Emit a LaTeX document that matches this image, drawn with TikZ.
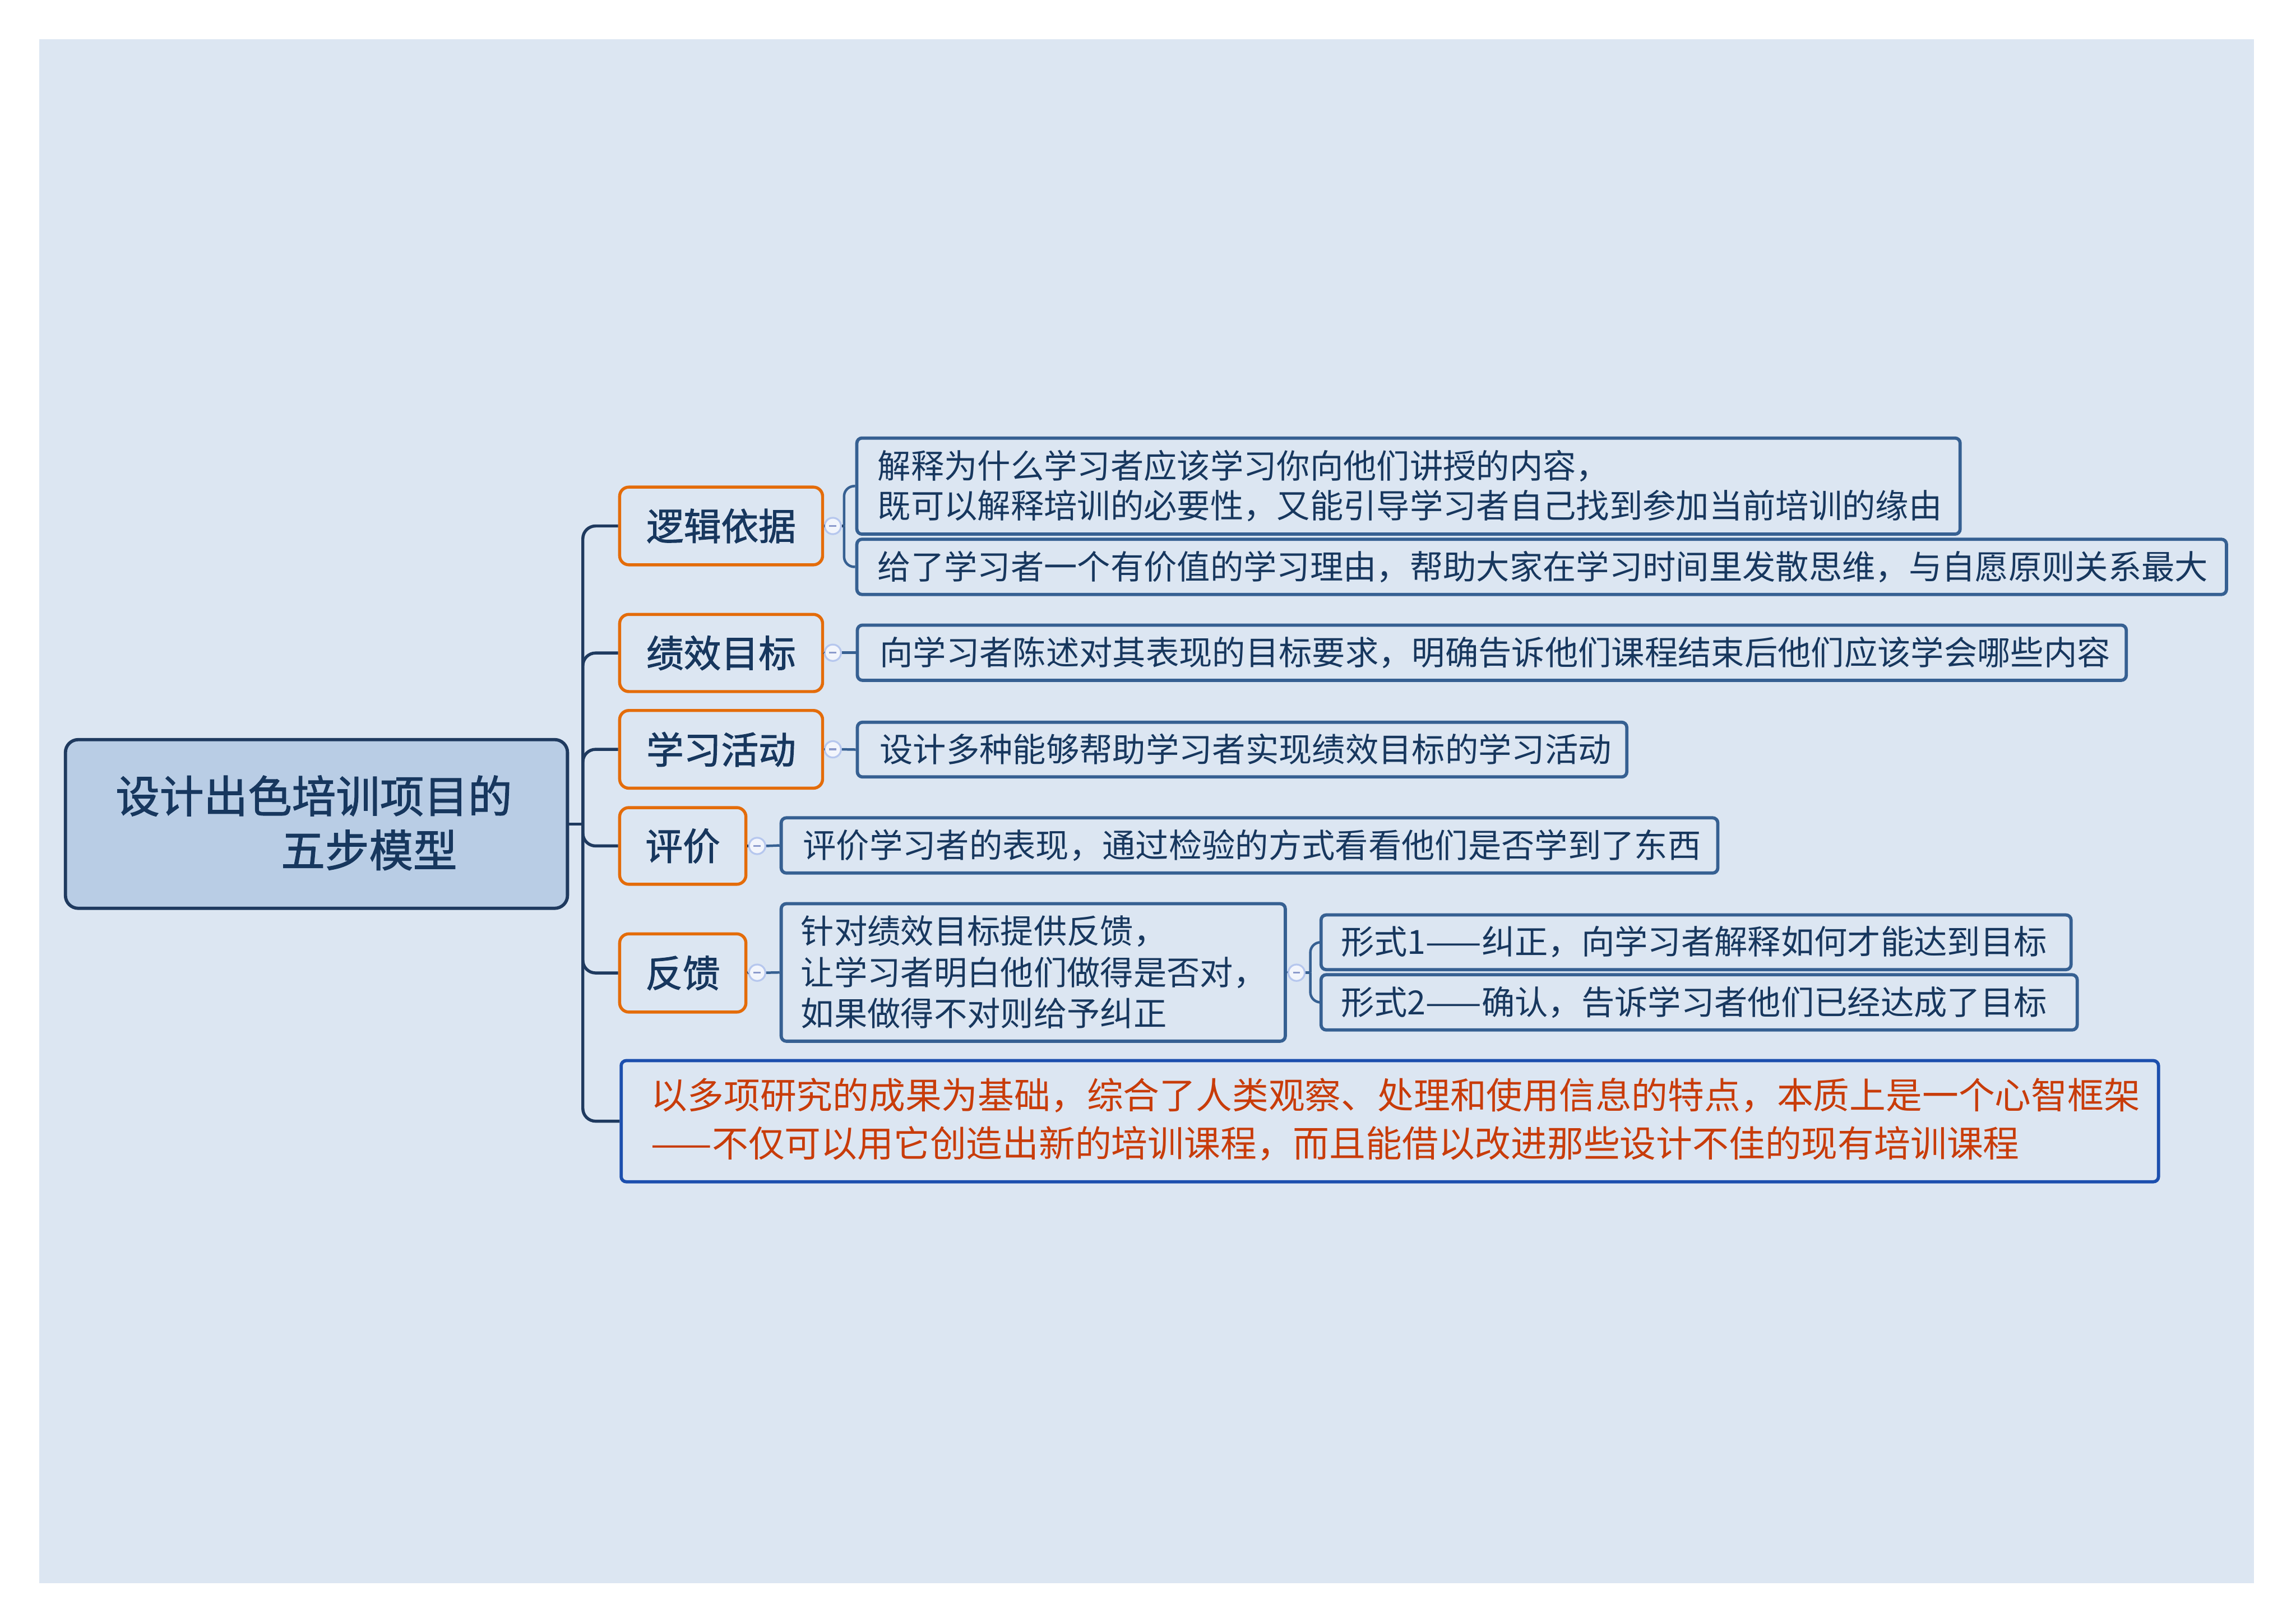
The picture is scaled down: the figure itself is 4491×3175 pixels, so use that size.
\documentclass[tikz,border=0pt]{standalone}
\usepackage{fontspec}
\newfontfamily\cjk{Noto Sans CJK SC}
\newfontfamily\cjkb[FakeBold=1.5]{Noto Sans CJK SC}
\usetikzlibrary{fit}
\definecolor{bg}{HTML}{DCE6F2}
\definecolor{rootfill}{HTML}{B9CDE5}
\definecolor{navy}{HTML}{1F3A5F}
\definecolor{ink}{HTML}{17375E}
\definecolor{orng}{HTML}{E46C0A}
\definecolor{steel}{HTML}{366092}
\definecolor{rblue}{HTML}{1C4FAE}
\definecolor{redtxt}{HTML}{C83C0A}
\definecolor{knobring}{HTML}{B6C7EE}
\definecolor{knobfill}{HTML}{F2F5FC}
\definecolor{knobdash}{HTML}{8C9BCC}
\begin{document}
\begin{tikzpicture}[x=0.01cm,y=-0.01cm,
  rootbox/.style={draw=navy, line width=1.8pt, fill=rootfill, rounded corners=0.25cm, inner sep=0pt},
  obox/.style={draw=orng, line width=1.7pt, fill=bg, rounded corners=0.18cm, inner sep=0pt},
  olabel/.style={text=ink, font=\cjkb\fontsize{20.8pt}{25pt}\selectfont, inner sep=0pt},
  cbox/.style={draw=steel, line width=1.8pt, fill=bg, rounded corners=0.1cm, inner sep=0pt},
  rbox/.style={draw=rblue, line width=1.8pt, fill=bg, rounded corners=0.1cm, inner sep=0pt},
  trunk/.style={draw=navy, line width=1.7pt, rounded corners=0.25cm},
  navyline/.style={draw=navy, line width=1.5pt},
  sub/.style={draw=steel, line width=1.4pt, rounded corners=0.2cm},
  knob/.style={circle, draw=knobring, line width=1pt, fill=knobfill, minimum size=0.32cm, inner sep=0pt,
     path picture={\draw[knobdash, line width=1.1pt] ([xshift=-0.07cm]path picture bounding box.center) -- ([xshift=0.07cm]path picture bounding box.center);}},
  ctext/.style={text=ink, font=\cjk\fontsize{18.5pt}{22.2pt}\selectfont, align=left, inner sep=0pt, anchor=west},
  ttext/.style={text=ink, font=\cjkb\fontsize{24.5pt}{30pt}\selectfont, inner sep=0pt},
  rtext/.style={text=redtxt, font=\cjk\fontsize{20.2pt}{26.75pt}\selectfont, align=left, inner sep=0pt, anchor=west}
]
\useasboundingbox (0,0) rectangle (4491,3175);
\fill[white] (0,0) rectangle (4491,3175);
\fill[bg] (77,77) rectangle (4409,3097);

% root
\node[rootbox, fit={(128,1447) (1110,1777)}] (root) {};
\node[ttext] (rt1) at (614,1557) {设计出色培训项目的};
\node[ttext, anchor=west] (rt2) at (549,1663) {五步模型};

% first-level boxes
\node[obox, fit={(1212,953) (1609,1105)}] (b1) {};
\node[obox, fit={(1212,1202) (1609,1353)}] (b2) {};
\node[obox, fit={(1212,1390) (1609,1542)}] (b3) {};
\node[obox, fit={(1212,1580) (1459,1730)}] (b4) {};
\node[obox, fit={(1212,1827) (1459,1980)}] (b5) {};
\node[rbox, fit={(1215,2075) (4222,2312)}] (b6) {};
\node[olabel] (l1) at (b1.center) {逻辑依据};
\node[olabel] (l2) at (b2.center) {绩效目标};
\node[olabel] (l3) at (b3.center) {学习活动};
\node[olabel] (l4) at (b4.center) {评价};
\node[olabel] (l5) at (b5.center) {反馈};

% children
\node[cbox, fit={(1676,857) (3834,1045)}] (c11) {};
\node[cbox, fit={(1676,1055) (4355,1163)}] (c12) {};
\node[cbox, fit={(1677,1223) (4159,1331)}] (c2) {};
\node[cbox, fit={(1677,1413) (3182,1520)}] (c3) {};
\node[cbox, fit={(1528,1600) (3360,1708)}] (c4) {};
\node[cbox, fit={(1528,1768) (2514,2037)}] (c5) {};
\node[cbox, fit={(2584,1790) (4051,1897)}] (c51) {};
\node[cbox, fit={(2584,1907) (4063,2015)}] (c52) {};

% texts
\node[ctext] (t11) at (1716,951) {解释为什么学习者应该学习你向他们讲授的内容，\\既可以解释培训的必要性，又能引导学习者自己找到参加当前培训的缘由};
\node[ctext] (t12) at (1716,1109) {给了学习者一个有价值的学习理由，帮助大家在学习时间里发散思维，与自愿原则关系最大};
\node[ctext] (t2) at (1720,1277) {向学习者陈述对其表现的目标要求，明确告诉他们课程结束后他们应该学会哪些内容};
\node[ctext] (t3) at (1720,1466) {设计多种能够帮助学习者实现绩效目标的学习活动};
\node[ctext] (t4) at (1570,1654) {评价学习者的表现，通过检验的方式看看他们是否学到了东西};
\node[ctext, font=\cjk\fontsize{18.5pt}{23pt}\selectfont] (t5) at (1566,1902) {针对绩效目标提供反馈，\\让学习者明白他们做得是否对，\\如果做得不对则给予纠正};
\node[ctext] (t51) at (2622,1843) {形式1——纠正，向学习者解释如何才能达到目标};
\node[ctext] (t52) at (2622,1961) {形式2——确认，告诉学习者他们已经达成了目标};
\node[rtext] (t6) at (1273,2190) {以多项研究的成果为基础，综合了人类观察、处理和使用信息的特点，本质上是一个心智框架\\——不仅可以用它创造出新的培训课程，而且能借以改进那些设计不佳的现有培训课程};

% trunk connectors
\coordinate (tj) at (1140,1612);
\draw[navyline, line width=1.7pt] (root.east) -- (tj);
\foreach \b in {b1,b2,b3,b4,b5,b6} { \draw[trunk] (tj) |- (\b.west); }

% knobs and child connectors
\node[knob] (k1) at (1629,1029) {};
\node[knob] (k2) at (1629,1277) {};
\node[knob] (k3) at (1629,1466) {};
\node[knob] (k4) at (1481,1655) {};
\node[knob] (k5) at (1481,1903) {};
\node[knob] (k6) at (2536,1903) {};
\coordinate (j1) at (1651,1029);
\coordinate (j6) at (2563,1903);

\draw[navyline] (b1.east) -- (k1.west);
\draw[navyline] (k1.east) -- (j1);
\draw[sub] (j1) |- (c11.west);
\draw[sub] (j1) |- (c12.west);
\draw[navyline] (b2.east) -- (k2.west);
\draw[sub] (k2.east) -- (c2.west);
\draw[navyline] (b3.east) -- (k3.west);
\draw[sub] (k3.east) -- (c3.west);
\draw[navyline] (b4.east) -- (k4.west);
\draw[sub] (k4.east) -- (c4.west);
\draw[navyline] (b5.east) -- (k5.west);
\draw[sub] (k5.east) -- (c5.west);
\draw[sub] (c5.east) -- (k6.west);
\draw[sub] (k6.east) -- (j6);
\draw[sub] (j6) |- (c51.west);
\draw[sub] (j6) |- (c52.west);
\end{tikzpicture}
\end{document}
